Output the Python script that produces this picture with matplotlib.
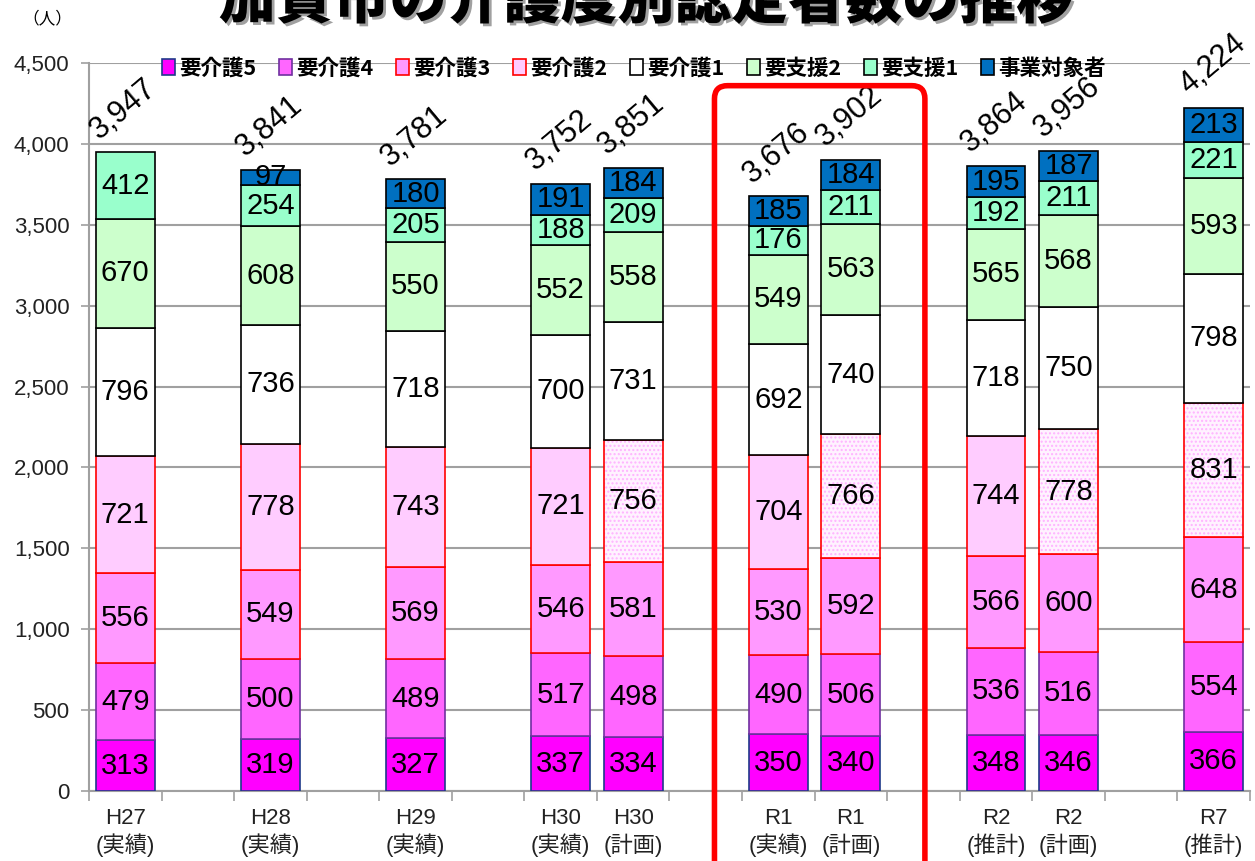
import numpy as np
import matplotlib
matplotlib.use('Agg')
import matplotlib.pyplot as plt
from matplotlib.patches import Patch, FancyBboxPatch
import matplotlib.patheffects as pe

plt.rcParams['font.family'] = ['Liberation Sans', 'Noto Sans CJK JP', 'DejaVu Sans']

# データ
labels = ['H27\n(実績)', 'H28\n(実績)', 'H29\n(実績)', 'H30\n(実績)', 'H30\n(計画)',
          'R1\n(実績)', 'R1\n(計画)', 'R2\n(推計)', 'R2\n(計画)', 'R7\n(推計)']
slots = [0, 2, 4, 6, 7, 9, 10, 12, 13, 15]
hatched = [False, False, False, False, True, False, True, False, True, True]

kaigo5 = [313, 319, 327, 337, 334, 350, 340, 348, 346, 366]
kaigo4 = [479, 500, 489, 517, 498, 490, 506, 536, 516, 554]
kaigo3 = [556, 549, 569, 546, 581, 530, 592, 566, 600, 648]
kaigo2 = [721, 778, 743, 721, 756, 704, 766, 744, 778, 831]
kaigo1 = [796, 736, 718, 700, 731, 692, 740, 718, 750, 798]
shien2 = [670, 608, 550, 552, 558, 549, 563, 565, 568, 593]
shien1 = [412, 254, 205, 188, 209, 176, 211, 192, 211, 221]
jigyo = [0, 97, 180, 191, 184, 185, 184, 195, 187, 213]

series = [
    ('要介護5', kaigo5, '#FF00FF', '#1F3A8A'),
    ('要介護4', kaigo4, '#FF66FF', '#7030A0'),
    ('要介護3', kaigo3, '#FF99FF', '#FF0000'),
    ('要介護2', kaigo2, '#FFCCFF', '#FF0000'),
    ('要介護1', kaigo1, '#FFFFFF', '#000000'),
    ('要支援2', shien2, '#CCFFCC', '#000000'),
    ('要支援1', shien1, '#99FFCC', '#000000'),
    ('事業対象者', jigyo, '#0070C0', '#000000'),
]

fig = plt.figure(figsize=(12.55, 8.61), dpi=100)
ax = fig.add_axes([0.0709, 0.0813, 0.9251, 0.8455])

x = np.array(slots, dtype=float)
w = 0.81
bottom = np.zeros(len(x))
for name, vals, fc, ec in series:
    vals = np.array(vals, dtype=float)
    for i in range(len(x)):
        if vals[i] == 0:
            continue
        if name == '要介護2' and hatched[i]:
            ax.bar(x[i], vals[i], w, bottom=bottom[i], color='#FFF2FF',
                   edgecolor='#FFB3FF', hatch='....', linewidth=0, zorder=3)
            ax.bar(x[i], vals[i], w, bottom=bottom[i], fill=False,
                   edgecolor=ec, linewidth=1.2, zorder=3)
        else:
            ax.bar(x[i], vals[i], w, bottom=bottom[i], color=fc,
                   edgecolor=ec, linewidth=1.2, zorder=3)
        ax.text(x[i], bottom[i] + vals[i] / 2, f'{int(vals[i])}', ha='center',
                va='center', fontsize=21, color='black', zorder=4)
    bottom += vals

# 合計
for xi, tot in zip(x, bottom):
    ax.text(xi - 0.02, tot + 45, f'{int(tot):,}', ha='center', va='bottom',
            rotation=40, fontsize=22, zorder=4)

ax.set_xlim(-0.5, 15.5)
ax.set_ylim(0, 4500)
ax.set_yticks(np.arange(0, 4501, 500))
ax.set_yticklabels([f'{v:,}' for v in range(0, 4501, 500)], fontsize=16, color='#222222')
ax.yaxis.grid(True, color='#A0A0A0', linewidth=1.5, zorder=0)
ax.set_axisbelow(True)
ax.tick_params(axis='y', length=6, color='#A0A0A0', width=1.2, pad=8)

ax.set_xticks(x)
ax.set_xticklabels(labels, fontsize=16, color='#222222', linespacing=1.25)
ax.tick_params(axis='x', which='major', length=0, pad=12)
ax.set_xticks(np.arange(-0.5, 15.6, 1), minor=True)
ax.tick_params(axis='x', which='minor', length=7, color='#A0A0A0', width=1.2)

for s in ['top', 'right']:
    ax.spines[s].set_visible(False)
for s in ['left', 'bottom']:
    ax.spines[s].set_color('#A0A0A0')
    ax.spines[s].set_linewidth(1.5)

# 凡例
handles = [Patch(facecolor=fc, edgecolor=ec, linewidth=1.2) for _, _, fc, ec in series]
fig.legend(handles, [s[0] for s in series], ncol=8, loc='center',
           bbox_to_anchor=(0.505, 0.921), frameon=False,
           handlelength=0.6, handleheight=0.8, handletextpad=0.2,
           columnspacing=1.05, prop={'family': ['Noto Sans CJK JP'], 'weight': 'bold', 'size': 15.5})

# 赤枠
box = FancyBboxPatch((8.12, -600), 2.9, 4960, boxstyle='round,pad=0,rounding_size=0.18',
                     mutation_aspect=449, fill=False, edgecolor='#FF0000',
                     linewidth=4, clip_on=False, zorder=5)
ax.add_patch(box)

fig.text(0.515, 0.979, '加賀市の介護度別認定者数の推移', ha='center', va='baseline',
         fontsize=41, fontweight='heavy', family=['Noto Sans CJK JP'],
         path_effects=[pe.withSimplePatchShadow(offset=(2, -2), shadow_rgbFace='#888888', alpha=0.8)])
fig.text(0.038, 0.978, '（人）', ha='center', va='center', fontsize=12,
         family=['Noto Sans CJK JP'])

fig.savefig('out.png', dpi=100)
